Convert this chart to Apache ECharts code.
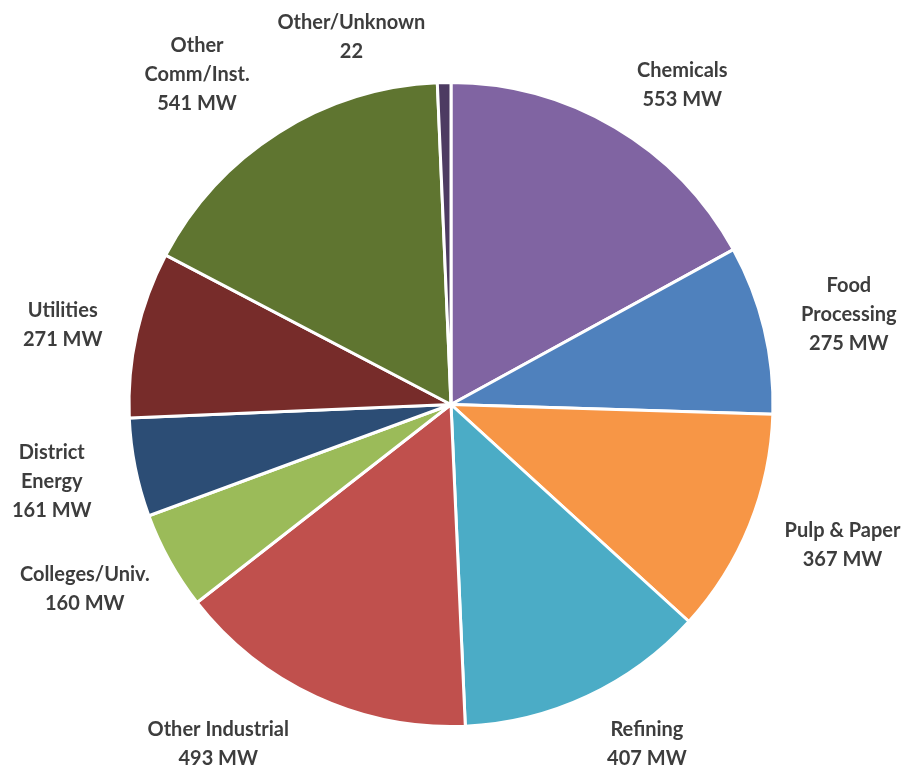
<!DOCTYPE html>
<html>
<head>
<meta charset="utf-8">
<script src="https://cdn.jsdelivr.net/npm/echarts@6/dist/echarts.min.js"></script>
<style>
  html, body { margin: 0; padding: 0; background: #ffffff; }
  #chart { width: 906px; height: 767px; }
</style>
</head>
<body>
<div id="chart"></div>
<script>
// CHP capacity by sector (MW)
const categories = [
  'Chemicals', 'Food Processing', 'Pulp & Paper', 'Refining', 'Other Industrial',
  'Colleges/Univ.', 'District Energy', 'Utilities', 'Other Comm/Inst.', 'Other/Unknown'
];
const labelTexts = [
  'Chemicals', 'Food\nProcessing', 'Pulp & Paper', 'Refining', 'Other Industrial',
  'Colleges/Univ.', 'District\nEnergy', 'Utilities', 'Other\nComm/Inst.', 'Other/Unknown'
];
const capacityMW = [553, 275, 367, 407, 493, 160, 161, 271, 541, 22];
const unitSuffix = [' MW', ' MW', ' MW', ' MW', ' MW', ' MW', ' MW', ' MW', ' MW', ''];

const colors = [
  '#8064A2', '#4F81BD', '#F79646', '#4BACC6', '#C0504D',
  '#9BBB59', '#2C4D75', '#772C2A', '#5F7530', '#4D3B62'
];
// label nudges so the text clears neighbouring labels
const labelNudge = [
  [26, 27], [6, 4], [18, -11], [25, -25], [-64, -26],
  [-14, -11], [-4, -2], [5, 9], [-38, 10], [-91, 35]
];

const center = [451, 404.5];

const sliceData = categories.map((name, i) => ({
  name: name,
  value: capacityMW[i],
  itemStyle: { color: colors[i] }
}));

const labelData = categories.map((name, i) => ({
  name: name,
  value: capacityMW[i],
  label: { offset: labelNudge[i] }
}));

const chart = echarts.init(document.getElementById('chart'), null, { renderer: 'canvas' });
chart.setOption({
  animation: false,
  backgroundColor: '#ffffff',
  series: [
    {
      type: 'pie',
      center: center,
      radius: [0, 322],
      startAngle: 90,
      clockwise: true,
      avoidLabelOverlap: false,
      silent: true,
      itemStyle: { borderColor: '#ffffff', borderWidth: 3 },
      label: { show: false },
      labelLine: { show: false },
      data: sliceData
    },
    {
      type: 'pie',
      center: center,
      radius: [380, 420],
      startAngle: 90,
      clockwise: true,
      avoidLabelOverlap: false,
      silent: true,
      itemStyle: { color: 'rgba(0,0,0,0)', borderWidth: 0 },
      labelLine: { show: false },
      label: {
        show: true,
        position: 'inside',
        rotate: 0,
        align: 'center',
        verticalAlign: 'middle',
        color: '#3d3d3d',
        fontFamily: 'Lato, "Open Sans", sans-serif',
        fontWeight: 'bold',
        fontSize: 20,
        lineHeight: 29,
        formatter: function (p) {
          return labelTexts[p.dataIndex] + '\n' + p.value + unitSuffix[p.dataIndex];
        }
      },
      data: labelData
    }
  ]
});
</script>
</body>
</html>
